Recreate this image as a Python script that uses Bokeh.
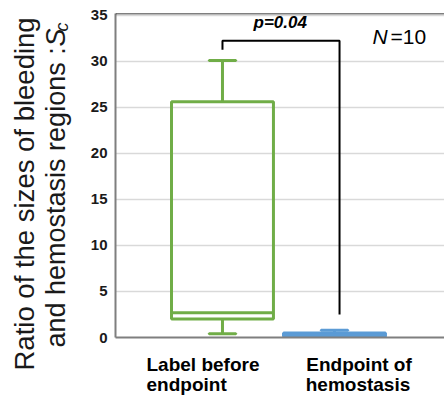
from bokeh.plotting import figure
from bokeh.layouts import row
from bokeh.models import Range1d, FixedTicker, Label, Span, ColumnDataSource, LinearAxis
from bokeh.embed import file_html
from bokeh.resources import INLINE
import math

# ---- data ----
categories = ["Label before endpoint", "Endpoint of hemostasis"]
cat_label_line1 = ["Label before", "Endpoint of"]
cat_label_line2 = ["endpoint", "hemostasis"]
cat_pos = [0, 1]
lower_whisker = [0.4, 0.0]
q1 = [2.0, 0.1]
median = [2.7, 0.3]
q3 = [25.6, 0.5]
upper_whisker = [30.1, 0.8]
colors = ["#70AD47", "#5B9BD5"]
y_ticks = [0, 5, 10, 15, 20, 25, 30, 35]
p_value_text = "p=0.04"
n_text = "10"
bracket_y = 32.25
bracket_left_end = 31.25
bracket_right_end = 2.5

FONT = "Liberation Sans"
BOX_W = 0.91
CAP_W = 0.24
LEFT_W = 80
Y_END = 35.2
H = 398

# ---- main plot ----
p = figure(width=444 - LEFT_W, height=H, output_backend="svg", toolbar_location=None,
           x_range=Range1d(-0.955, 1.982), y_range=Range1d(0, Y_END),
           min_border_left=115 - LEFT_W, min_border_right=0, min_border_top=13,
           min_border_bottom=61)
p.background_fill_color = "white"
p.border_fill_color = "white"
p.outline_line_color = None

# bottom axes: first carries line 1 of category labels, second carries line 2
line1_pos = [-0.174, 1.219]
line2_pos = [-0.32, 1.21]
p.xaxis.ticker = FixedTicker(ticks=line1_pos)
p.xaxis.major_label_overrides = {v: t for v, t in zip(line1_pos, cat_label_line1)}
p.xaxis.axis_line_color = "#7f7f7f"
p.xaxis.axis_line_width = 2
p.xaxis.major_tick_line_color = None
p.xaxis.minor_tick_line_color = None
p.xaxis.major_tick_out = 0
p.xaxis.major_tick_in = 0
p.xaxis.minor_tick_out = 0
p.xaxis.major_label_standoff = 16
p.xaxis.major_label_text_font = FONT
p.xaxis.major_label_text_font_size = "19px"
p.xaxis.major_label_text_font_style = "bold"
p.xaxis.major_label_text_color = "black"

ax2 = LinearAxis(ticker=FixedTicker(ticks=line2_pos),
                 major_label_overrides={v: t for v, t in zip(line2_pos, cat_label_line2)},
                 axis_line_color=None, major_tick_line_color=None, minor_tick_line_color=None,
                 major_tick_out=0, major_tick_in=0, minor_tick_out=0,
                 major_label_standoff=-4, major_label_text_font=FONT,
                 major_label_text_font_size="19px", major_label_text_font_style="bold",
                 major_label_text_color="black")
p.add_layout(ax2, "below")

p.yaxis.ticker = FixedTicker(ticks=y_ticks)
p.yaxis.axis_line_color = "#7f7f7f"
p.yaxis.axis_line_width = 2
p.yaxis.major_tick_line_color = None
p.yaxis.minor_tick_line_color = None
p.yaxis.major_tick_out = 0
p.yaxis.major_tick_in = 0
p.yaxis.minor_tick_out = 0
p.yaxis.major_label_text_font = FONT
p.yaxis.major_label_text_font_style = "bold"
p.yaxis.major_label_text_font_size = "15px"
p.yaxis.major_label_text_color = "#1a1a1a"
p.yaxis.major_label_standoff = 8
p.xgrid.visible = False
p.ygrid.grid_line_color = "#d9d9d9"
p.ygrid.grid_line_width = 1.5

# top frame line
p.add_layout(Span(location=Y_END, dimension="width", line_color="black", line_width=1.5))

# boxes
src = ColumnDataSource(dict(x=cat_pos, lw=lower_whisker, q1=q1, med=median, q3=q3,
                            uw=upper_whisker, color=colors))
p.segment(x0="x", y0="q3", x1="x", y1="uw", source=src, line_color="color", line_width=3)
p.segment(x0="x", y0="lw", x1="x", y1="q1", source=src, line_color="color", line_width=3)
p.vbar(x="x", bottom="q1", top="q3", width=BOX_W, source=src, fill_color=None,
       line_color="color", line_width=3)
p.vbar(x="x", bottom="med", top="med", width=BOX_W, source=src, fill_color=None,
       line_color="color", line_width=3)
p.rect(x="x", y="uw", width=CAP_W, height=0.001, source=src, fill_color=None,
       line_color="color", line_width=3)
p.rect(x="x", y="lw", width=CAP_W, height=0.001, source=src, fill_color=None,
       line_color="color", line_width=3)

# significance bracket
bx = [cat_pos[0], cat_pos[0], cat_pos[1] + 0.045, cat_pos[1] + 0.045]
by = [bracket_left_end, bracket_y, bracket_y, bracket_right_end]
p.line(bx, by, line_color="black", line_width=2)

p.add_layout(Label(x=0.277, y=33.2, text=p_value_text, text_font=FONT, text_font_size="17px",
                   text_font_style="bold italic", text_color="black"))
p.add_layout(Label(x=1.339, y=31.4, text="N", text_font=FONT, text_font_size="21px",
                   text_font_style="italic", text_color="black"))
p.add_layout(Label(x=1.5, y=31.4, text="=" + n_text, text_font=FONT, text_font_size="21px",
                   text_color="black"))

# ---- y-axis title panel (own full-height frame, pixel coordinates with y up) ----
t = figure(width=LEFT_W, height=H, output_backend="svg", toolbar_location=None,
           x_range=Range1d(0, LEFT_W), y_range=Range1d(0, H),
           min_border=0, min_border_left=0, min_border_right=0,
           min_border_top=0, min_border_bottom=0)
t.frame_align = False
t.axis.visible = False
t.grid.visible = False
t.outline_line_color = None
t.background_fill_color = "white"
t.border_fill_color = "white"
ang = math.pi / 2


def yv(px):
    return H - px


t.add_layout(Label(x=24, y=yv(370), text="Ratio of the sizes of bleeding", angle=ang,
                   text_font=FONT, text_font_size="27.5px", text_color="#1a1a1a",
                   text_baseline="alphabetic", text_align="left"))
t.add_layout(Label(x=55, y=yv(347), text="and hemostasis regions :", angle=ang,
                   text_font=FONT, text_font_size="27px", text_color="#1a1a1a",
                   text_baseline="alphabetic", text_align="left"))
t.add_layout(Label(x=55, y=yv(46), text="S", angle=ang,
                   text_font=FONT, text_font_size="27px", text_font_style="italic",
                   text_color="#1a1a1a", text_baseline="alphabetic", text_align="left"))
t.add_layout(Label(x=61, y=yv(31), text="c", angle=ang,
                   text_font=FONT, text_font_size="18px", text_font_style="italic",
                   text_color="#1a1a1a", text_baseline="alphabetic", text_align="left"))

layout = row(t, p, spacing=0)
open("out.html", "w").write(file_html(layout, INLINE))
